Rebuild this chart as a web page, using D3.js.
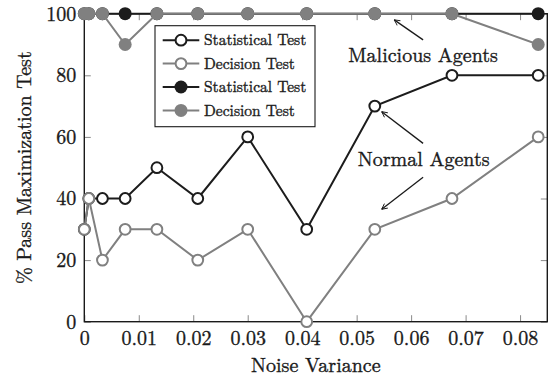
<!DOCTYPE html>
<html>
<head>
<meta charset="utf-8">
<script src="https://cdn.jsdelivr.net/npm/d3@7"></script>
<style>
  body { margin: 0; background: #fff; }
</style>
</head>
<body>
<script>
const width = 554;
const height = 377;
const marginLeft = 84.3;
const marginRight = 6.7;
const marginTop = 13.7;
const marginBottom = 55.3;
const font = '"Latin Modern Roman", "Liberation Serif", serif';

// noise variance values (x)
const noiseVariance = [0, 0.00083, 0.00333, 0.0075, 0.01333, 0.02083, 0.03, 0.04083, 0.05333, 0.0675, 0.08333];
// normal agents
const normalStatistical = [30, 40, 40, 40, 50, 40, 60, 30, 70, 80, 80];
const normalDecision = [30, 40, 20, 30, 30, 20, 30, 0, 30, 40, 60];
// malicious agents
const maliciousStatistical = [100, 100, 100, 100, 100, 100, 100, 100, 100, 100, 100];
const maliciousDecision = [100, 100, 100, 90, 100, 100, 100, 100, 100, 100, 90];

const xTicks = [0, 0.01, 0.02, 0.03, 0.04, 0.05, 0.06, 0.07, 0.08];
const yTicks = [0, 20, 40, 60, 80, 100];
const legendLabels = ["Statistical Test", "Decision Test", "Statistical Test", "Decision Test"];

const black = "#1c1c1c";
const grey = "#808080";

const svg = d3
  .select("body")
  .append("svg")
  .attr("width", width)
  .attr("height", height);

const xScale = d3.scaleLinear()
  .domain([0, 0.085])
  .range([marginLeft, width - marginRight]);
const yScale = d3.scaleLinear()
  .domain([0, 100])
  .range([height - marginBottom, marginTop]);

// serif text, slightly thickened to look like the printed figure
function serif(sel, size) {
  return sel
    .style("font-family", font)
    .style("font-size", size + "px")
    .attr("fill", "#1a1a1a")
    .attr("stroke", "#1a1a1a")
    .attr("stroke-width", 0.35);
}

// ticks on all four sides, pointing inward
const xAxis = d3.axisBottom(xScale)
  .tickValues(xTicks)
  .tickSizeInner(-6.5)
  .tickSizeOuter(0)
  .tickPadding(9)
  .tickFormat(d => d === 0 ? "0" : d3.format(".2f")(d));
const yAxis = d3.axisLeft(yScale)
  .tickValues(yTicks)
  .tickSizeInner(-6.5)
  .tickSizeOuter(0)
  .tickPadding(8);

const gx = svg.append("g")
  .attr("transform", `translate(0, ${height - marginBottom})`)
  .call(xAxis);
const gy = svg.append("g")
  .attr("transform", `translate(${marginLeft}, 0)`)
  .call(yAxis);
const gxTop = svg.append("g")
  .attr("transform", `translate(0, ${marginTop})`)
  .call(d3.axisTop(xScale).tickValues(xTicks).tickSizeInner(-6.5).tickSizeOuter(0).tickFormat(""));
const gyRight = svg.append("g")
  .attr("transform", `translate(${width - marginRight}, 0)`)
  .call(d3.axisRight(yScale).tickValues(yTicks).tickSizeInner(-6.5).tickSizeOuter(0).tickFormat(""));

[gx, gy, gxTop, gyRight].forEach(g => {
  g.select(".domain").remove();
  g.selectAll(".tick line").attr("stroke", "#8a8a8a").attr("stroke-width", 1);
  serif(g.selectAll(".tick text"), 20);
});

// frame
svg.append("rect")
  .attr("x", xScale(0))
  .attr("y", yScale(100))
  .attr("width", xScale(0.085) - xScale(0))
  .attr("height", yScale(0) - yScale(100))
  .attr("fill", "none")
  .attr("stroke", "#1a1a1a")
  .attr("stroke-width", 1.4);

// axis labels
serif(svg.append("text"), 20)
  .attr("x", (xScale(0) + xScale(0.085)) / 2)
  .attr("y", 372)
  .attr("text-anchor", "middle")
  .text("Noise Variance");

serif(svg.append("text"), 20)
  .attr("transform", `translate(31, ${(yScale(0) + yScale(100)) / 2}) rotate(-90)`)
  .attr("text-anchor", "middle")
  .text("% Pass Maximization Test");

const series = [
  { values: normalStatistical, color: black, filled: false },
  { values: normalDecision, color: grey, filled: false },
  { values: maliciousStatistical, color: black, filled: true },
  { values: maliciousDecision, color: grey, filled: true }
];

const line = d3.line()
  .x(d => xScale(d[0]))
  .y(d => yScale(d[1]));

series.forEach(s => {
  const pts = d3.zip(noiseVariance, s.values);
  const g = svg.append("g");
  g.append("path")
    .datum(pts)
    .attr("d", line)
    .attr("fill", "none")
    .attr("stroke", s.color)
    .attr("stroke-width", 2);
  g.selectAll("circle")
    .data(pts)
    .enter()
    .append("circle")
    .attr("cx", d => xScale(d[0]))
    .attr("cy", d => yScale(d[1]))
    .attr("r", s.filled ? 6.5 : 5.4)
    .attr("fill", s.filled ? s.color : "#fff")
    .attr("stroke", s.color)
    .attr("stroke-width", s.filled ? 0 : 2);
});

// legend
const legend = svg.append("g")
  .attr("transform", "translate(155, 25.7)");
legend.append("rect")
  .attr("width", 160)
  .attr("height", 101)
  .attr("fill", "#fff")
  .attr("stroke", "#1a1a1a")
  .attr("stroke-width", 1.1);
series.forEach((s, i) => {
  const row = legend.append("g").attr("transform", `translate(0, ${14.5 + i * 23.4})`);
  row.append("line")
    .attr("x1", 7.7).attr("x2", 44.3)
    .attr("stroke", s.color)
    .attr("stroke-width", 2);
  row.append("circle")
    .attr("cx", 26)
    .attr("r", s.filled ? 6.5 : 5.4)
    .attr("fill", s.filled ? s.color : "#fff")
    .attr("stroke", s.color)
    .attr("stroke-width", s.filled ? 0 : 2);
  serif(row.append("text"), 15.5)
    .attr("x", 49)
    .attr("dy", "0.33em")
    .text(legendLabels[i]);
});

// annotations
const defs = svg.append("defs");
defs.append("marker")
  .attr("id", "arrow")
  .attr("viewBox", "0 0 10 10")
  .attr("refX", 9)
  .attr("refY", 5)
  .attr("markerWidth", 7)
  .attr("markerHeight", 7)
  .attr("markerUnits", "userSpaceOnUse")
  .attr("orient", "auto")
  .append("path")
  .attr("d", "M1,1 L9,5 L1,9")
  .attr("fill", "none")
  .attr("stroke", "#1a1a1a")
  .attr("stroke-width", 1.3);

const arrows = [
  [[0.0622, 91.5], [0.0569, 98]],
  [[0.0622, 57.9], [0.0546, 68.2]],
  [[0.0622, 46.9], [0.0546, 36.5]]
];
arrows.forEach(a => {
  svg.append("line")
    .attr("x1", xScale(a[0][0])).attr("y1", yScale(a[0][1]))
    .attr("x2", xScale(a[1][0])).attr("y2", yScale(a[1][1]))
    .attr("stroke", "#1a1a1a")
    .attr("stroke-width", 1.3)
    .attr("marker-end", "url(#arrow)");
});

serif(svg.append("text"), 20)
  .attr("x", xScale(0.0622))
  .attr("y", yScale(84.4))
  .attr("text-anchor", "middle")
  .text("Malicious Agents");
serif(svg.append("text"), 20)
  .attr("x", xScale(0.0623))
  .attr("y", yScale(50.6))
  .attr("text-anchor", "middle")
  .text("Normal Agents");
</script>
</body>
</html>
